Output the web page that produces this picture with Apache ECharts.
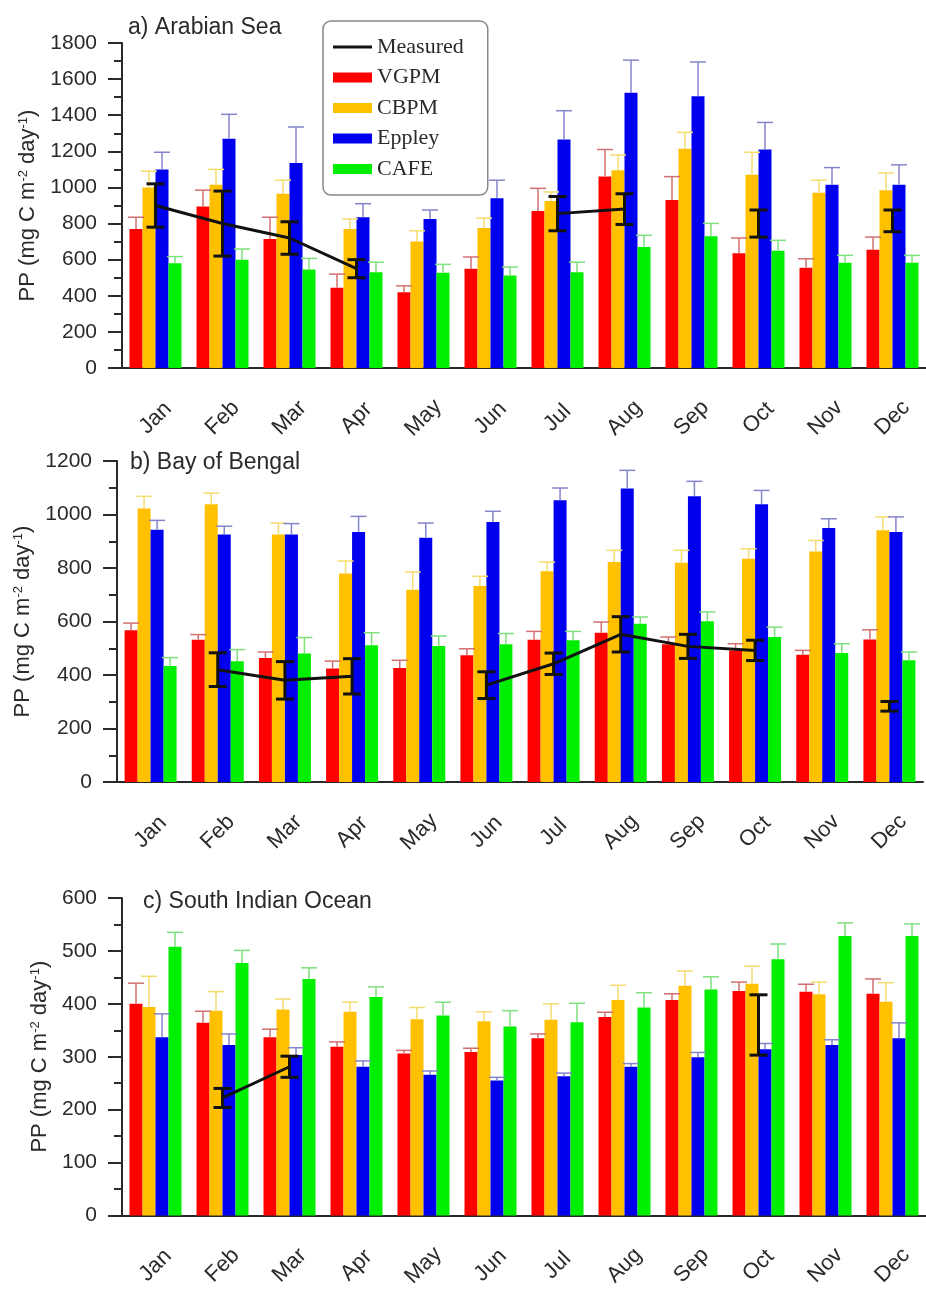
<!DOCTYPE html>
<html>
<head>
<meta charset="utf-8">
<script src="https://cdn.jsdelivr.net/npm/echarts@6/dist/echarts.min.js"></script>
<style>
  html, body { margin: 0; background: #fff; }
  #chart { width: 926px; height: 1290px; }
</style>
</head>
<body>
<div id="chart"></div>
<script>
const months = ["Jan", "Feb", "Mar", "Apr", "May", "Jun", "Jul", "Aug", "Sep", "Oct", "Nov", "Dec"];
const models = ["VGPM", "CBPM", "Eppley", "CAFE"];

// a) Arabian Sea
const asVGPM = [770, 895, 715, 445, 420, 550, 870, 1060, 930, 635, 555, 655];
const asVGPMErr = [65, 90, 120, 75, 35, 65, 125, 150, 130, 85, 50, 70];
const asCBPM = [1000, 1015, 965, 770, 700, 775, 925, 1095, 1215, 1070, 970, 985];
const asCBPMErr = [90, 85, 75, 55, 60, 55, 50, 85, 90, 125, 70, 95];
const asEppley = [1100, 1270, 1135, 835, 825, 940, 1265, 1525, 1505, 1210, 1015, 1015];
const asEppleyErr = [95, 135, 200, 75, 50, 100, 160, 180, 190, 150, 95, 110];
const asCAFE = [580, 600, 545, 530, 528, 513, 530, 670, 730, 650, 583, 583];
const asCAFEErr = [37, 59, 62, 56, 46, 46, 56, 65, 71, 57, 41, 41];
const asMeasured = [900, 800, 720, 550, null, null, 855, 880, null, 800, null, 815];
const asMeasuredErr = [120, 180, 90, 50, null, null, 95, 85, null, 75, null, 60];

// b) Bay of Bengal
const bbVGPM = [567, 532, 464, 424, 426, 474, 532, 558, 515, 492, 476, 533];
const bbVGPMErr = [27, 19, 22, 28, 29, 24, 31, 40, 27, 25, 16, 36];
const bbCBPM = [1022, 1038, 925, 779, 719, 733, 788, 822, 820, 835, 862, 941];
const bbCBPMErr = [46, 42, 43, 47, 66, 36, 34, 44, 46, 37, 41, 50];
const bbEppley = [943, 925, 925, 935, 913, 972, 1053, 1097, 1068, 1038, 950, 935];
const bbEppleyErr = [35, 31, 41, 58, 55, 40, 46, 68, 56, 52, 34, 56];
const bbCAFE = [434, 451, 480, 511, 508, 515, 530, 592, 601, 542, 482, 455];
const bbCAFEErr = [31, 44, 60, 47, 38, 40, 33, 25, 35, 37, 35, 31];
const bbMeasured = [null, 420, 380, 395, null, 362, 442, 552, 507, 492, null, 283];
const bbMeasuredErr = [null, 63, 70, 66, null, 50, 40, 66, 45, 38, null, 18];

// c) South Indian Ocean
const sioVGPM = [400, 364, 337, 319, 306, 309, 335, 375, 407, 424, 423, 419];
const sioVGPMErr = [39, 22, 15, 9, 6, 7, 8, 9, 12, 17, 14, 28];
const sioCBPM = [394, 387, 389, 385, 371, 367, 370, 407, 434, 438, 418, 404];
const sioCBPMErr = [58, 36, 20, 18, 22, 18, 30, 28, 28, 33, 23, 36];
const sioEppley = [337, 322, 303, 281, 266, 255, 263, 281, 299, 314, 322, 335];
const sioEppleyErr = [44, 21, 14, 11, 7, 6, 6, 6, 9, 11, 10, 29];
const sioCAFE = [508, 477, 447, 413, 378, 357, 365, 393, 427, 484, 528, 528];
const sioCAFEErr = [27, 24, 21, 19, 25, 30, 36, 28, 24, 29, 25, 23];
const sioMeasured = [null, 222, 281, null, null, null, null, null, null, 360, null, null];
const sioMeasuredErr = [null, 18, 20, null, null, null, null, null, null, 57, null, null];

const titles = ["a) Arabian Sea", "b) Bay of Bengal", "c) South Indian Ocean"];
const yMax = [1800, 1200, 600];
const yStep = [200, 200, 100];

const panels = [
  { vals: [asVGPM, asCBPM, asEppley, asCAFE], errs: [asVGPMErr, asCBPMErr, asEppleyErr, asCAFEErr], meas: asMeasured, measErr: asMeasuredErr },
  { vals: [bbVGPM, bbCBPM, bbEppley, bbCAFE], errs: [bbVGPMErr, bbCBPMErr, bbEppleyErr, bbCAFEErr], meas: bbMeasured, measErr: bbMeasuredErr },
  { vals: [sioVGPM, sioCBPM, sioEppley, sioCAFE], errs: [sioVGPMErr, sioCBPMErr, sioEppleyErr, sioCAFEErr], meas: sioMeasured, measErr: sioMeasuredErr }
];

const FONT = '"Liberation Sans", Arial, sans-serif';
const INK = "#2a2a2a";
const barColors = ["#ff0000", "#ffc000", "#0000ee", "#00ee00"];
const errColors = ["#d07070", "#f5dc70", "#8484cc", "#7ee07e"];
const BAR_W = 13;

const grids = [
  { left: 122, top: 43, width: 806, height: 325 },
  { left: 117, top: 461, width: 806, height: 321 },
  { left: 122, top: 898, width: 806, height: 321 }
];
const nameGaps = [80, 79, 68];
const titlePos = [[128, 16], [130, 451], [143, 890]];

function modelErr(i, color) {
  return function (params, api) {
    const c = api.coord([api.value(0), api.value(1)]);
    const t = api.coord([api.value(0), api.value(1) + api.value(2)]);
    const x = c[0] + (i - 1.5) * BAR_W;
    return {
      type: "group",
      children: [
        { type: "line", shape: { x1: x, y1: c[1], x2: x, y2: t[1] }, style: { stroke: color, lineWidth: 1.5 } },
        { type: "line", shape: { x1: x - 8, y1: t[1], x2: x + 8, y2: t[1] }, style: { stroke: color, lineWidth: 1.5 } }
      ]
    };
  };
}

function measErr(params, api) {
  const v = api.value(1), e = api.value(2);
  const hi = api.coord([api.value(0), v + e]);
  const lo = api.coord([api.value(0), v - e]);
  const x = hi[0];
  const s = { stroke: "#111", lineWidth: 3 };
  return {
    type: "group",
    children: [
      { type: "line", shape: { x1: x, y1: hi[1], x2: x, y2: lo[1] }, style: s },
      { type: "line", shape: { x1: x - 9, y1: hi[1], x2: x + 9, y2: hi[1] }, style: s },
      { type: "line", shape: { x1: x - 9, y1: lo[1], x2: x + 9, y2: lo[1] }, style: s }
    ]
  };
}

const xAxes = [], yAxes = [], series = [];
panels.forEach((p, k) => {
  xAxes.push({
    type: "category", gridIndex: k, data: months, boundaryGap: true,
    axisLine: { lineStyle: { color: INK, width: 2 } },
    axisTick: { alignWithLabel: true, length: 16, lineStyle: { color: INK, width: 2 } },
    axisLabel: {
      interval: 0, rotate: 45, align: "center", verticalAlign: "middle", margin: 50,
      color: INK, fontFamily: FONT, fontSize: 22
    }
  });
  yAxes.push({
    type: "value", gridIndex: k, min: 0, max: yMax[k], interval: yStep[k],
    name: "PP (mg C m{sup|-2} day{sup|-1})", nameLocation: "middle", nameGap: nameGaps[k],
    nameTextStyle: {
      color: INK, fontFamily: FONT, fontSize: 22,
      rich: { sup: { fontFamily: FONT, fontSize: 13, color: INK, verticalAlign: "top", padding: [0, 0, 8, 0] } }
    },
    axisLine: { show: true, lineStyle: { color: INK, width: 2 } },
    axisTick: { show: true, length: 14, lineStyle: { color: INK, width: 2 } },
    minorTick: { show: true, splitNumber: 2, length: 8, lineStyle: { color: INK, width: 2 } },
    splitLine: { show: false },
    axisLabel: { color: INK, fontFamily: FONT, fontSize: 21, margin: 25, formatter: (v) => String(v) }
  });
  p.vals.forEach((vals, i) => {
    series.push({
      name: models[i], type: "bar", xAxisIndex: k, yAxisIndex: k, data: vals,
      barWidth: BAR_W, barGap: "0%", itemStyle: { color: barColors[i] }, z: 2
    });
  });
  p.vals.forEach((vals, i) => {
    series.push({
      name: models[i] + " SD", type: "custom", xAxisIndex: k, yAxisIndex: k,
      data: vals.map((v, j) => [j, v, p.errs[i][j]]),
      renderItem: modelErr(i, errColors[i]), z: 3, silent: true
    });
  });
  series.push({
    name: "Measured", type: "line", xAxisIndex: k, yAxisIndex: k, data: p.meas,
    symbol: "none", connectNulls: false, lineStyle: { color: "#111", width: 3 },
    itemStyle: { color: "#111" }, z: 5
  });
  series.push({
    name: "Measured SD", type: "custom", xAxisIndex: k, yAxisIndex: k,
    data: p.meas.map((v, j) => (v == null ? null : [j, v, p.measErr[j]])).filter(Boolean),
    renderItem: measErr, z: 6, silent: true
  });
});

// thin horizontal stroke for the "Measured" legend entry (tiny corner dots keep the 40x10 box)
const lineIcon = "path://M0,0L0.01,0L0,0.01Z M0,3.4H40V6.6H0Z M40,10L39.99,10L40,9.99Z";

const chart = echarts.init(document.getElementById("chart"));
chart.setOption({
  animation: false,
  backgroundColor: "#fff",
  title: titles.map((t, k) => ({
    text: t, left: titlePos[k][0], top: titlePos[k][1], padding: 0,
    textStyle: { fontFamily: FONT, fontSize: 23, fontWeight: "normal", color: INK }
  })),
  legend: {
    data: [
      { name: "Measured", icon: lineIcon, itemStyle: { color: "#111" } },
      { name: "VGPM", icon: "rect" },
      { name: "CBPM", icon: "rect" },
      { name: "Eppley", icon: "rect" },
      { name: "CAFE", icon: "rect" }
    ],
    orient: "vertical", left: 323, top: 21,
    itemWidth: 39, itemHeight: 10, itemGap: 8.5,
    padding: [15, 24, 15, 10],
    backgroundColor: "#fff", borderColor: "#888", borderWidth: 1.5, borderRadius: 8,
    textStyle: { fontFamily: '"Liberation Serif", "Times New Roman", serif', fontSize: 22, color: INK },
    selectedMode: false
  },
  grid: grids,
  xAxis: xAxes,
  yAxis: yAxes,
  series: series
});
</script>
</body>
</html>
